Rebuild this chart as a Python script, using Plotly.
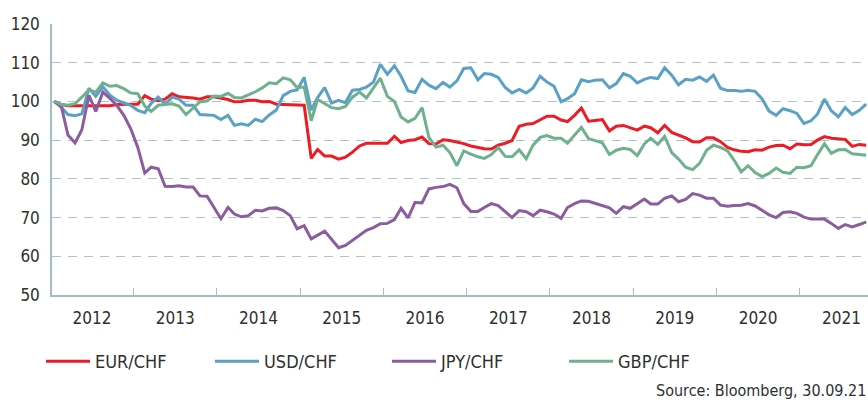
import pandas as pd
import plotly.graph_objects as go

# Monthly observations, index 100 at start (Jan 2012 ... Oct 2021)
dates = pd.date_range("2012-01-01", periods=118, freq="MS") + pd.Timedelta(days=18)

eur_chf = [100, 99.2, 98.9, 98.9, 98.9, 98.9, 98.9, 98.9, 98.9, 99.2,
           99.3, 99.3, 99.3, 101.5, 100.6, 100.2, 100.6, 102.0, 101.2, 101.1,
           100.9, 100.6, 101.2, 101.2, 100.9, 100.5, 99.9, 100.0, 100.3, 100.3,
           99.9, 100.0, 99.3, 99.2, 99.2, 99.0, 99.0, 85.3, 87.6, 85.9,
           85.9, 85.1, 85.6, 86.9, 88.5, 89.2, 89.2, 89.2, 89.2, 91.0,
           89.4, 89.9, 90.1, 90.8, 89.1, 89.0, 90.1, 89.9, 89.5, 89.1,
           88.5, 88.1, 87.8, 87.7, 88.7, 89.2, 89.9, 93.6, 94.1, 94.3,
           95.3, 96.2, 96.2, 95.2, 94.8, 96.4, 98.3, 94.9, 95.1, 95.3,
           92.4, 93.6, 93.8, 93.2, 92.6, 93.6, 93.2, 91.9, 93.8, 92.0,
           91.3, 90.6, 89.6, 89.5, 90.6, 90.6, 89.6, 88.1, 87.5, 87.1,
           87.0, 87.5, 87.4, 88.2, 88.6, 88.7, 87.8, 89.0, 88.8, 88.9,
           90.0, 90.9, 90.5, 90.4, 90.2, 88.4, 88.9, 88.7]

usd_chf = [100, 98.5, 96.6, 96.3, 96.8, 103.4, 101.3, 103.8, 101.6, 100.3,
           99.6, 99.0, 97.7, 97.1, 99.5, 101.1, 99.3, 101.1, 100.6, 99.0,
           99.0, 96.6, 96.5, 96.4, 95.3, 96.4, 93.8, 94.2, 93.8, 95.4,
           94.8, 96.5, 97.8, 101.5, 102.6, 103.0, 106.2, 97.8, 101.0, 103.6,
           99.6, 100.3, 99.7, 102.9, 103.1, 103.7, 105.0, 109.6, 107.0, 109.2,
           106.5, 102.7, 102.3, 105.7, 104.2, 103.3, 104.9, 103.7, 105.3, 108.5,
           108.7, 105.6, 107.2, 107.0, 106.2, 103.6, 102.2, 103.1, 102.2, 103.5,
           106.5, 105.0, 103.9, 99.9, 100.7, 102.0, 105.6, 105.1, 105.5, 105.6,
           103.5, 104.6, 107.2, 106.5, 104.8, 105.7, 106.2, 105.9, 108.7, 106.8,
           104.3, 105.7, 105.5, 106.3, 105.2, 106.8, 103.4, 102.8, 102.8, 102.6,
           102.9, 102.6, 100.7, 97.5, 96.4, 98.1, 97.6, 96.9, 94.3, 95.0,
           96.7, 100.6, 97.6, 96.0, 98.4, 96.6, 97.7, 99.3]

jpy_chf = [100, 98.7, 91.3, 89.3, 92.7, 101.6, 97.4, 102.4, 100.8, 99.0,
           96.4, 93.0, 88.2, 81.5, 83.0, 82.6, 78.1, 78.0, 78.2, 77.9,
           77.9, 75.6, 75.5, 72.5, 69.7, 72.6, 70.9, 70.2, 70.5, 71.9,
           71.7, 72.4, 72.5, 71.8, 70.5, 67.1, 67.9, 64.5, 65.4, 66.5,
           64.4, 62.2, 62.8, 64.1, 65.6, 66.7, 67.4, 68.4, 68.5, 69.5,
           72.4, 69.9, 73.9, 73.8, 77.4, 77.8, 78.0, 78.6, 77.7, 73.6,
           71.6, 71.6, 72.6, 73.6, 73.1, 71.6, 70.0, 71.8, 71.5, 70.5,
           71.9, 71.5, 70.9, 69.8, 72.6, 73.6, 74.3, 74.2, 73.7, 73.1,
           72.5, 71.1, 72.8, 72.4, 73.5, 74.8, 73.5, 73.5, 75.0, 75.6,
           74.1, 74.7, 76.2, 75.8, 75.0, 75.0, 73.2, 72.9, 73.1, 73.2,
           73.6, 73.0, 71.9, 70.7, 70.0, 71.3, 71.5, 71.1, 70.1, 69.6,
           69.6, 69.6, 68.5, 67.2, 68.2, 67.6, 68.2, 68.9]

gbp_chf = [100, 99.2, 99.0, 99.4, 101.1, 103.0, 102.4, 104.8, 103.9, 104.1,
           103.3, 102.2, 102.0, 98.8, 97.4, 99.0, 99.2, 99.4, 98.8, 96.6,
           98.3, 99.9, 100.1, 101.4, 101.3, 102.1, 101.0, 100.9, 101.7, 102.5,
           103.5, 104.8, 104.6, 106.1, 105.6, 103.6, 103.7, 95.0, 100.5, 99.4,
           98.4, 98.1, 98.7, 101.1, 102.4, 100.9, 103.5, 106.0, 101.3, 100.0,
           96.0, 94.7, 95.6, 98.4, 90.7, 88.2, 88.7, 86.8, 83.4, 87.2,
           86.4, 85.7, 85.3, 86.3, 88.1, 85.8, 85.7, 87.5, 85.2, 88.7,
           90.7, 91.2, 90.5, 90.5, 89.2, 91.4, 93.3, 90.4, 89.9, 89.3,
           86.3, 87.4, 87.9, 87.6, 86.0, 89.0, 90.5, 88.9, 91.0, 86.8,
           85.1, 83.0, 82.4, 84.0, 87.4, 88.7, 88.1, 87.2, 84.8, 81.8,
           83.4, 81.6, 80.6, 81.4, 82.8, 81.7, 81.4, 83.0, 82.9, 83.4,
           86.2, 89.1, 86.6, 87.5, 87.6, 86.5, 86.3, 86.1]

series_names = ["EUR/CHF", "USD/CHF", "JPY/CHF", "GBP/CHF"]
series_values = [eur_chf, usd_chf, jpy_chf, gbp_chf]
series_colors = ["#ec1c24", "#5ba1c5", "#8b5c9e", "#6fb08e"]

FONT = "DejaVu Sans Condensed, Liberation Sans, Arial, sans-serif"
AXIS_COLOR = "#9fbfc1"
TEXT_COLOR = "#2f2f2f"

legend_ids = ["legend", "legend2", "legend3", "legend4"]
legend_x_px = [41, 210, 387, 564]

fig = go.Figure()
for name, vals, col, lid in zip(series_names, series_values, series_colors, legend_ids):
    fig.add_trace(go.Scatter(x=dates, y=vals, mode="lines", name=name, legend=lid,
                             line=dict(color=col, width=3)))

legend_layouts = {}
for lid, px in zip(legend_ids, legend_x_px):
    legend_layouts[lid] = dict(
        orientation="h", xref="container", yref="container",
        x=px / 868, y=0.103, xanchor="left", yanchor="middle",
        font=dict(size=18, color=TEXT_COLOR), itemwidth=44,
        bgcolor="rgba(0,0,0,0)")

fig.update_layout(
    width=868, height=403,
    margin=dict(l=52, r=0, t=24, b=108),
    paper_bgcolor="white", plot_bgcolor="white",
    font=dict(family=FONT, size=17, color=TEXT_COLOR),
    showlegend=True,
    annotations=[dict(text="Source: Bloomberg, 30.09.21", xref="paper", yref="paper",
                      x=1.0, y=-0.354, xanchor="right", yanchor="middle",
                      showarrow=False, font=dict(size=16, color=TEXT_COLOR))],
    **legend_layouts,
)

fig.update_xaxes(
    type="date",
    range=["2012-01-09", "2021-10-27"],
    tick0="2012-01-01", dtick="M12", tickformat="%Y",
    ticklabelmode="period",
    ticks="inside", ticklen=7, tickcolor=AXIS_COLOR, tickwidth=1,
    showline=True, linecolor=AXIS_COLOR, linewidth=1.5,
    showgrid=False, zeroline=False,
    ticklabelstandoff=7,
    tickfont=dict(size=17, color=TEXT_COLOR),
)
fig.update_yaxes(
    range=[50, 120], dtick=10, tick0=50,
    showline=True, linecolor=AXIS_COLOR, linewidth=1.5,
    showgrid=True, gridcolor="#a9c6c8", gridwidth=1, griddash="9px,7px",
    zeroline=False, ticks="",
    ticklabelstandoff=7,
    tickfont=dict(size=17, color=TEXT_COLOR),
)

fig.write_html("out.html",
               config={"displayModeBar": False},
               post_script="document.body.style.margin='0';document.body.style.overflow='hidden';")
